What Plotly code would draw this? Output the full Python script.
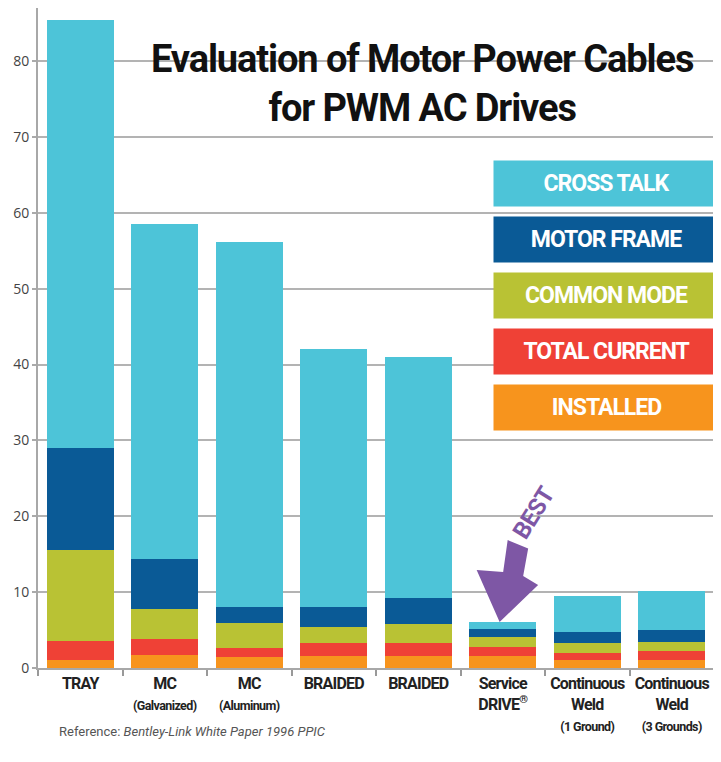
import plotly.graph_objects as go

# Данные
cables = ['TRAY', 'MC (Galvanized)', 'MC (Aluminum)', 'BRAIDED', 'BRAIDED ', 'Service DRIVE',
          'Continuous Weld (1 Ground)', 'Continuous Weld (3 Grounds)']
SQ = '<span style="letter-spacing:-0.8px">%s</span>'
SUB = '<span style="font-size:12.5px;letter-spacing:-0.6px">%s</span>'
cable_labels = [SQ % 'TRAY',
                SQ % 'MC' + '<br>' + SUB % '(Galvanized)',
                SQ % 'MC' + '<br>' + SUB % '(Aluminum)',
                SQ % 'BRAIDED', SQ % 'BRAIDED',
                SQ % 'Service' + '<br>' + SQ % 'DRIVE<sup>®</sup>',
                SQ % 'Continuous' + '<br>' + SQ % 'Weld' + '<br>' + SUB % '(1 Ground)',
                SQ % 'Continuous' + '<br>' + SQ % 'Weld' + '<br>' + SUB % '(3 Grounds)']

installed = [1.1, 1.7, 1.4, 1.6, 1.6, 1.6, 1.0, 1.05]
total_current = [2.5, 2.1, 1.2, 1.7, 1.7, 1.2, 0.95, 1.25]
common_mode = [11.9, 4.0, 3.3, 2.05, 2.45, 1.3, 1.35, 1.1]
motor_frame = [13.5, 6.6, 2.15, 2.75, 3.45, 1.1, 1.4, 1.65]
cross_talk = [56.4, 44.1, 48.05, 33.9, 31.75, 0.85, 4.85, 5.05]

series = [
    ('INSTALLED', installed, '#f7941d'),
    ('TOTAL CURRENT', total_current, '#ef4136'),
    ('COMMON MODE', common_mode, '#b9c234'),
    ('MOTOR FRAME', motor_frame, '#0a5a96'),
    ('CROSS TALK', cross_talk, '#4dc4d8'),
]

# Размеры фигуры (страница браузера добавляет отступ 8px)
OFF = 8
W, H = 721 - OFF, 762 - OFF
ML, MR, MT, MB = 30, 6.5, 0, 94
BOLD = 'Roboto, Liberation Sans, sans-serif'
PURPLE = '#7e57a5'


def px_x(x):
    return (x - OFF - ML) / (W - ML - MR)


def px_y(y):
    return (H - MB - (y - OFF)) / (H - MT - MB)


fig = go.Figure()

for name, vals, color in series:
    fig.add_trace(go.Bar(x=cables, y=vals, name=name, marker_color=color,
                         marker_line_width=0, showlegend=False))

# Белая подложка под заголовок (закрывает линии сетки)
fig.add_shape(type='rect', xref='paper', yref='paper', layer='between',
              x0=px_x(130), x1=1.0, y0=px_y(125), y1=1.0,
              fillcolor='white', line_width=0)

# Заголовок
fig.add_annotation(text='<span style="letter-spacing:-1.1px">Evaluation of Motor Power Cables'
                        '<br>for PWM AC Drives</span>',
                   xref='paper', yref='paper', x=px_x(423), y=px_y(83),
                   xanchor='center', yanchor='middle', showarrow=False,
                   font=dict(family=BOLD, size=38, color='#111', weight='bold'))

# Легенда в виде цветных плашек
top = 162
for i, (name, vals, color) in enumerate(reversed(series)):
    fig.add_annotation(text='<span style="letter-spacing:-1px">%s</span>' % name,
                       xref='paper', yref='paper',
                       x=px_x(606.5), y=px_y(top + 21.5 + i * 56),
                       xanchor='center', yanchor='middle',
                       width=223, height=43, bgcolor=color, showarrow=False,
                       font=dict(family=BOLD, size=23, color='white', weight='bold'))

# Стрелка BEST
arrow_pts = [(508, 540), (528.5, 548.5), (523.5, 576), (538.5, 585),
             (500, 622), (477, 570), (503.5, 572)]
path = 'M ' + ' L '.join('%.4f,%.4f' % (px_x(x), px_y(y)) for x, y in arrow_pts) + ' Z'
fig.add_shape(type='path', xref='paper', yref='paper', path=path,
              fillcolor=PURPLE, line_width=0)
fig.add_annotation(text='<span style="letter-spacing:-0.8px">BEST</span>',
                   xref='paper', yref='paper',
                   x=px_x(534), y=px_y(513), xanchor='center', yanchor='middle',
                   textangle=-58, showarrow=False,
                   font=dict(family=BOLD, size=24, color=PURPLE, weight='bold'))

# Подпись-источник
fig.add_annotation(text='Reference: <i>Bentley-Link White Paper 1996 PPIC</i>',
                   xref='paper', yref='paper', x=px_x(57), y=px_y(731),
                   xanchor='left', yanchor='middle', showarrow=False,
                   font=dict(family='Roboto, Liberation Sans, sans-serif', size=13, color='#555'))

fig.update_layout(
    barmode='stack',
    bargap=0.21,
    width=W,
    height=H,
    margin=dict(l=ML, r=MR, t=MT, b=MB, pad=0, autoexpand=False),
    plot_bgcolor='white',
    paper_bgcolor='white',
    xaxis=dict(
        tickmode='array', tickvals=cables, ticktext=cable_labels, tickangle=0,
        tickfont=dict(family=BOLD, size=16, color='#222', weight='bold'),
        ticks='outside', tickson='boundaries', ticklen=6, tickcolor='#999', tickwidth=2,
        showline=True, linecolor='#a8a8a8', linewidth=2,
        showgrid=False, automargin=False,
    ),
    yaxis=dict(
        range=[0, 87], dtick=10,
        tickfont=dict(family='Open Sans, DejaVu Sans, sans-serif', size=14, color='#444'),
        ticks='outside', ticklen=4, tickcolor='#aaa', tickwidth=2,
        showline=True, linecolor='#a8a8a8', linewidth=2,
        gridcolor='#b3b3b3', gridwidth=2, zeroline=False, automargin=False,
    ),
)

fig.write_html('out.html')
